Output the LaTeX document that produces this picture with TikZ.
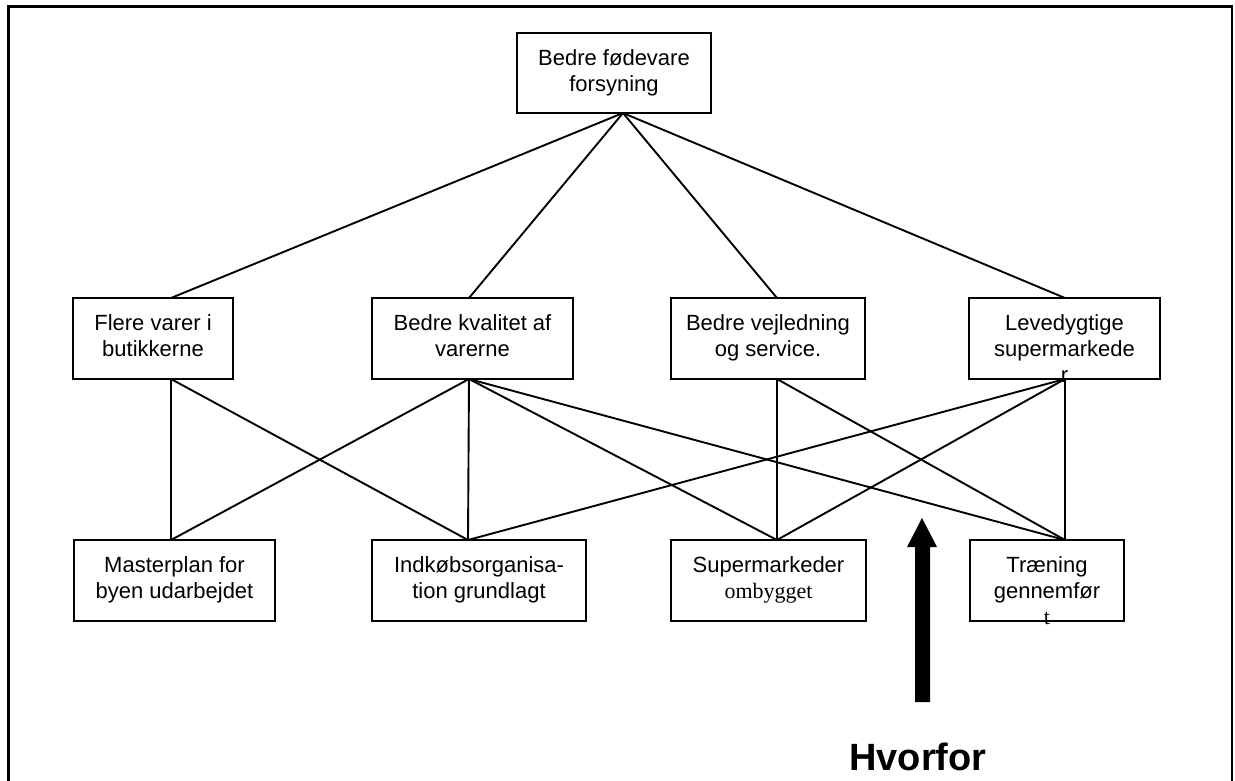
\documentclass[tikz,border=0pt]{standalone}
\usepackage{fontspec}
\setmainfont{Liberation Sans}
\newfontfamily\tms{Liberation Serif}
\newcommand\fst{\rule{0pt}{17pt}}
\begin{document}
\begin{tikzpicture}[x=1pt,y=-1pt,
 box/.style={draw, line width=2.2pt, inner sep=0pt, outer sep=0pt, minimum width=#1, minimum height=81pt},
 lbl/.style={anchor=north, inner sep=0pt, align=center, font=\fontsize{22}{26}\selectfont},
 con/.style={line width=1.9pt}]
\clip (0,0) rectangle (1235,780);
\draw[line width=2.6pt] (8.5,6.5) rectangle (1232,800);
% boxes
\node[box=194pt, minimum height=80pt] (top) at (614,73) {};
\node[box=160pt] (b1) at (153,338.5) {};
\node[box=201pt] (b2) at (472.5,338.5) {};
\node[box=194pt] (b3) at (768,338.5) {};
\node[box=191pt] (b4) at (1064.5,338.5) {};
\node[box=201pt] (m1) at (174.5,580.5) {};
\node[box=214pt] (m2) at (479,580.5) {};
\node[box=195pt] (m3) at (768.5,580.5) {};
\node[box=154pt] (m4) at (1047,580.5) {};
% labels
\node[lbl] (topl) at (614,48) {\fst Bedre fødevare\\forsyning};
\node[lbl] (b1l) at (153,313) {\fst Flere varer i\\butikkerne};
\node[lbl] (b2l) at (472.5,313) {\fst Bedre kvalitet af\\varerne};
\node[lbl] (b3l) at (768,313) {\fst Bedre vejledning\\og service.};
\node[lbl] (b4l) at (1064.5,313) {\fst Levedygtige\\supermarkede\\r};
\node[lbl] (m1l) at (174.5,555) {\fst Masterplan for\\byen udarbejdet};
\node[lbl] (m2l) at (479,555) {\fst Indkøbsorganisa-\\tion grundlagt};
\node[lbl] (m3l) at (768.5,555) {\fst Supermarkeder\\{\tms ombygget}};
\node[lbl] (m4l) at (1047,555) {\fst Træning\\gennemfør\\{\tms t}};
% connectors top -> middle
\draw[con] ([xshift=9pt]top.south) -- ([xshift=18pt]b1.north);
\draw[con] ([xshift=9pt]top.south) -- ([xshift=-3.5pt]b2.north);
\draw[con] ([xshift=9pt]top.south) -- ([xshift=9pt]b3.north);
\draw[con] ([xshift=9pt]top.south) -- ([xshift=0.5pt]b4.north);
% middle -> bottom
\draw[con] ([xshift=18pt]b1.south) -- ([xshift=-3.5pt]m1.north);
\draw[con] ([xshift=18pt]b1.south) -- ([xshift=-11pt]m2.north);
\draw[con] ([xshift=-3.5pt]b2.south) -- ([xshift=-3.5pt]m1.north);
\draw[con] ([xshift=-3.5pt]b2.south) -- ([xshift=-11pt]m2.north);
\draw[con] ([xshift=-3.5pt]b2.south) -- ([xshift=8.5pt]m3.north);
\draw[con] ([xshift=-3.5pt]b2.south) -- ([xshift=18pt]m4.north);
\draw[con] ([xshift=9pt]b3.south) -- ([xshift=8.5pt]m3.north);
\draw[con] ([xshift=9pt]b3.south) -- ([xshift=18pt]m4.north);
\draw[con] ([xshift=0.5pt]b4.south) -- ([xshift=-11pt]m2.north);
\draw[con] ([xshift=0.5pt]b4.south) -- ([xshift=8.5pt]m3.north);
\draw[con] ([xshift=0.5pt]b4.south) -- ([xshift=18pt]m4.north);
% block arrow
\fill (915,702) -- (915,547) -- (907,547) -- (922,518) -- (937,547) -- (930,547) -- (930,702) -- cycle;
\node[anchor=base, inner sep=0pt, font=\bfseries\fontsize{38}{44}\selectfont] (hv) at (918,770) {Hvorfor};
\end{tikzpicture}
\end{document}
